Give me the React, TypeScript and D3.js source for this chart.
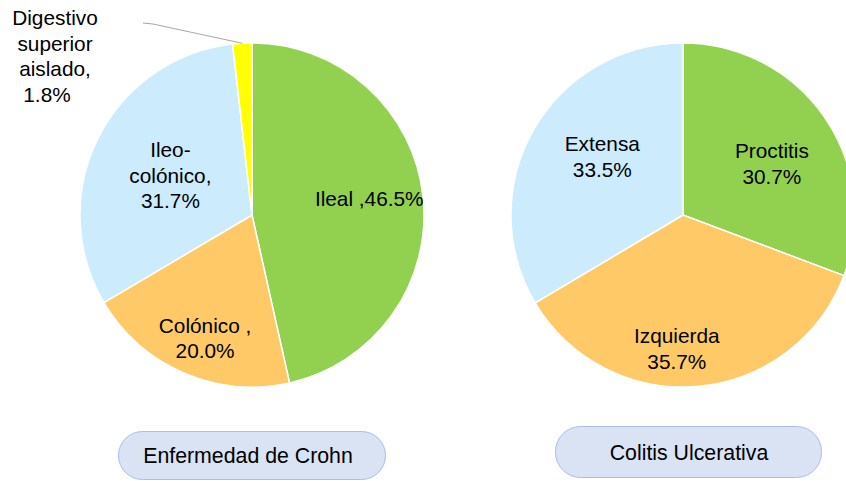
import React from "react";
import * as d3 from "d3";

// Crohn's disease location
const crohnLabels = [["Ileal ,46.5%"], ["Colónico ,", "20.0%"], ["Ileo-", "colónico,", "31.7%"], ["Digestivo", "superior", "aislado,", "1.8%"]];
const crohnValues = [46.5, 20.0, 31.7, 1.8];
const crohnColors = ["#92D050", "#FEC966", "#CCEBFD", "#FFFF00"];

// Ulcerative colitis extent
const ucLabels = [["Proctitis", "30.7%"], ["Izquierda", "35.7%"], ["Extensa", "33.5%"]];
const ucValues = [30.7, 35.7, 33.5];
const ucColors = ["#92D050", "#FEC966", "#CCEBFD"];

const titles = ["Enfermedad de Crohn", "Colitis Ulcerativa"];

const W = 846;
const H = 481;
const R = 172;
const FONT = "'Liberation Sans', Arial, Helvetica, sans-serif";
const FS = 20.8;
const LH = 25.5;

type PieProps = {
  cx: number;
  cy: number;
  values: number[];
  colors: string[];
  labels: string[][];
  labelK: (number | null)[];
  off: [number, number][];
};

function Pie({ cx, cy, values, colors, labels, labelK, off }: PieProps) {
  const pie = d3.pie<number>().sort(null).value((d) => d);
  const arcs = pie(values);
  const arc = d3.arc<d3.PieArcDatum<number>>().innerRadius(0).outerRadius(R);
  return (
    <g transform={`translate(${cx},${cy})`}>
      {arcs.map((a, i) => (
        <path key={i} d={arc(a) || ""} fill={colors[i]} stroke="#ffffff" strokeWidth={1.5} />
      ))}
      {arcs.map((a, i) => {
        const k = labelK[i];
        if (k == null) return null;
        const la = d3.arc<d3.PieArcDatum<number>>().innerRadius(R * k).outerRadius(R * k);
        const [cx0, cy0] = la.centroid(a);
        const x = cx0 + off[i][0];
        const lines = labels[i];
        const y0 = cy0 + off[i][1] - ((lines.length - 1) * LH) / 2 + FS * 0.36;
        return (
          <text key={"t" + i} x={x} y={y0} textAnchor="middle" fontFamily={FONT} fontSize={FS} fill="#000">
            {lines.map((l, j) => (
              <tspan key={j} x={x} y={y0 + j * LH}>
                {l}
              </tspan>
            ))}
          </text>
        );
      })}
    </g>
  );
}

export default function App() {
  const lcx = 252, lcy = 215, rcx = 683, rcy = 215;
  const pie = d3.pie<number>().sort(null).value((d) => d);
  const small = pie(crohnValues)[3];
  const outer = d3.arc<d3.PieArcDatum<number>>().innerRadius(R).outerRadius(R).centroid(small);
  const sx = lcx + outer[0];
  const sy = lcy + outer[1];
  const dig = crohnLabels[3];
  return (
    <svg width={W} height={H} style={{ position: "absolute", left: 0, top: 0, background: "#fff" }}>
      <Pie cx={lcx} cy={lcy} values={crohnValues} colors={crohnColors} labels={crohnLabels}
        labelK={[0.68, 0.76, 0.53, null]} off={[[1, -4], [5, 3], [0, 1], [0, 0]]} />
      <Pie cx={rcx} cy={rcy} values={ucValues} colors={ucColors} labels={ucLabels}
        labelK={[0.6, 0.78, 0.58]} off={[[4, 7], [-18, 0], [6, -9]]} />
      <polyline points={`${sx},${sy} 153,24 143,23`} fill="none" stroke="#A6A6A6" strokeWidth={1} />
      <text fontFamily={FONT} fontSize={FS} textAnchor="middle" fill="#000">
        {dig.map((l, j) => (
          <tspan key={j} x={j === 3 ? 47 : 55} y={25 + j * LH}>
            {l}
          </tspan>
        ))}
      </text>
      <rect x={118.5} y={431.5} width={267} height={48} rx={24} fill="#DAE3F3" stroke="#A9BDEA" strokeWidth={1} />
      <text x={248} y={463} textAnchor="middle" fontFamily={FONT} fontSize={21.3} fill="#000">{titles[0]}</text>
      <rect x={555.5} y={426.5} width={266} height={51} rx={25} fill="#DAE3F3" stroke="#A9BDEA" strokeWidth={1} />
      <text x={689} y={460} textAnchor="middle" fontFamily={FONT} fontSize={21.3} fill="#000">{titles[1]}</text>
    </svg>
  );
}
